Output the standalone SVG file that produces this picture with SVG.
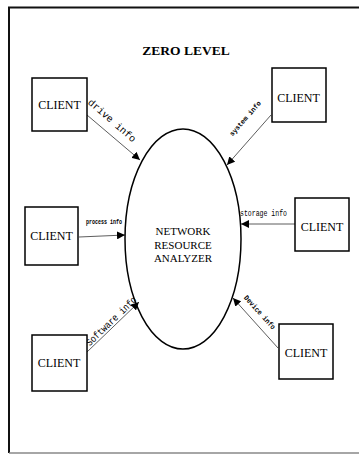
<svg xmlns="http://www.w3.org/2000/svg" width="359" height="454" viewBox="0 0 359 454">
<style>
.box{fill:#fff;stroke:#000;stroke-width:1.5}
.lbl{font-family:"Liberation Serif","Times New Roman",serif;font-size:12px;fill:#000;text-anchor:middle}
.conn{stroke:#333;stroke-width:0.8;fill:none;marker-end:url(#ah)}
.ct{font-family:"Liberation Mono","Courier New",monospace;fill:#000;text-anchor:middle}
</style>
<defs>
<marker id="ah" viewBox="0 0 10 10" refX="10" refY="5" markerWidth="8" markerHeight="8" markerUnits="userSpaceOnUse" orient="auto">
<path d="M0,0 L10,5 L0,10 z" fill="#000"/>
</marker>
</defs>
<rect width="359" height="454" fill="#fff"/>
<g id="frame">
<line x1="9" y1="7" x2="9" y2="453" stroke="#111" stroke-width="2"/>
<line x1="8" y1="7.5" x2="359" y2="7.5" stroke="#111" stroke-width="2"/>
<line x1="9" y1="453" x2="359" y2="453" stroke="#888" stroke-width="1.5"/>
</g>
<text id="title" x="186" y="55" font-family="Liberation Serif,serif" font-weight="bold" font-size="13.5" text-anchor="middle">ZERO LEVEL</text>
<g id="connectors">
<line class="conn" x1="87" y1="115" x2="140" y2="160"/>
<line class="conn" x1="271" y1="115" x2="227" y2="165"/>
<line class="conn" x1="79" y1="237" x2="125" y2="235"/>
<line class="conn" x1="295" y1="224" x2="241" y2="224"/>
<line class="conn" x1="87" y1="352" x2="139" y2="302"/>
<line class="conn" x1="278" y1="348" x2="233" y2="298"/>
<text class="ct" font-size="10" textLength="60" lengthAdjust="spacingAndGlyphs" transform="translate(110,123) rotate(41)">drive info</text>
<text class="ct" font-size="7" font-weight="bold" textLength="44" lengthAdjust="spacingAndGlyphs" transform="translate(247,120) rotate(-49)">system info</text>
<text class="ct" font-size="7" font-weight="bold" x="104" y="224" textLength="36" lengthAdjust="spacingAndGlyphs">process info</text>
<text class="ct" font-size="8.5" x="263.5" y="216" textLength="47" lengthAdjust="spacingAndGlyphs">storage info</text>
<text class="ct" font-size="10" textLength="66" lengthAdjust="spacingAndGlyphs" transform="translate(113.5,323.5) rotate(-44)">Software info</text>
<text class="ct" font-size="7.5" font-weight="bold" textLength="43" lengthAdjust="spacingAndGlyphs" transform="translate(258,314) rotate(48)">Device info</text>
</g>
<g id="analyzer">
<ellipse cx="183" cy="239" rx="58" ry="110" fill="none" stroke="#000" stroke-width="1.5"/>
<text class="lbl" font-size="11" x="183" y="235" style="font-size:11px">NETWORK</text>
<text class="lbl" x="183" y="248.5" style="font-size:11px">RESOURCE</text>
<text class="lbl" x="183" y="262" style="font-size:11px">ANALYZER</text>
</g>
<g id="client1"><rect class="box" x="32" y="78" width="55" height="53"/><text class="lbl" x="59.5" y="109">CLIENT</text></g>
<g id="client2"><rect class="box" x="272" y="68" width="54" height="54"/><text class="lbl" x="298.5" y="102">CLIENT</text></g>
<g id="client3"><rect class="box" x="25" y="207" width="53" height="58"/><text class="lbl" x="51.5" y="239.5">CLIENT</text></g>
<g id="client4"><rect class="box" x="295" y="198" width="54" height="53"/><text class="lbl" x="322" y="230.5">CLIENT</text></g>
<g id="client5"><rect class="box" x="32" y="335" width="55" height="56"/><text class="lbl" x="59" y="367">CLIENT</text></g>
<g id="client6"><rect class="box" x="279" y="324" width="54" height="55"/><text class="lbl" x="306" y="357">CLIENT</text></g>
</svg>
